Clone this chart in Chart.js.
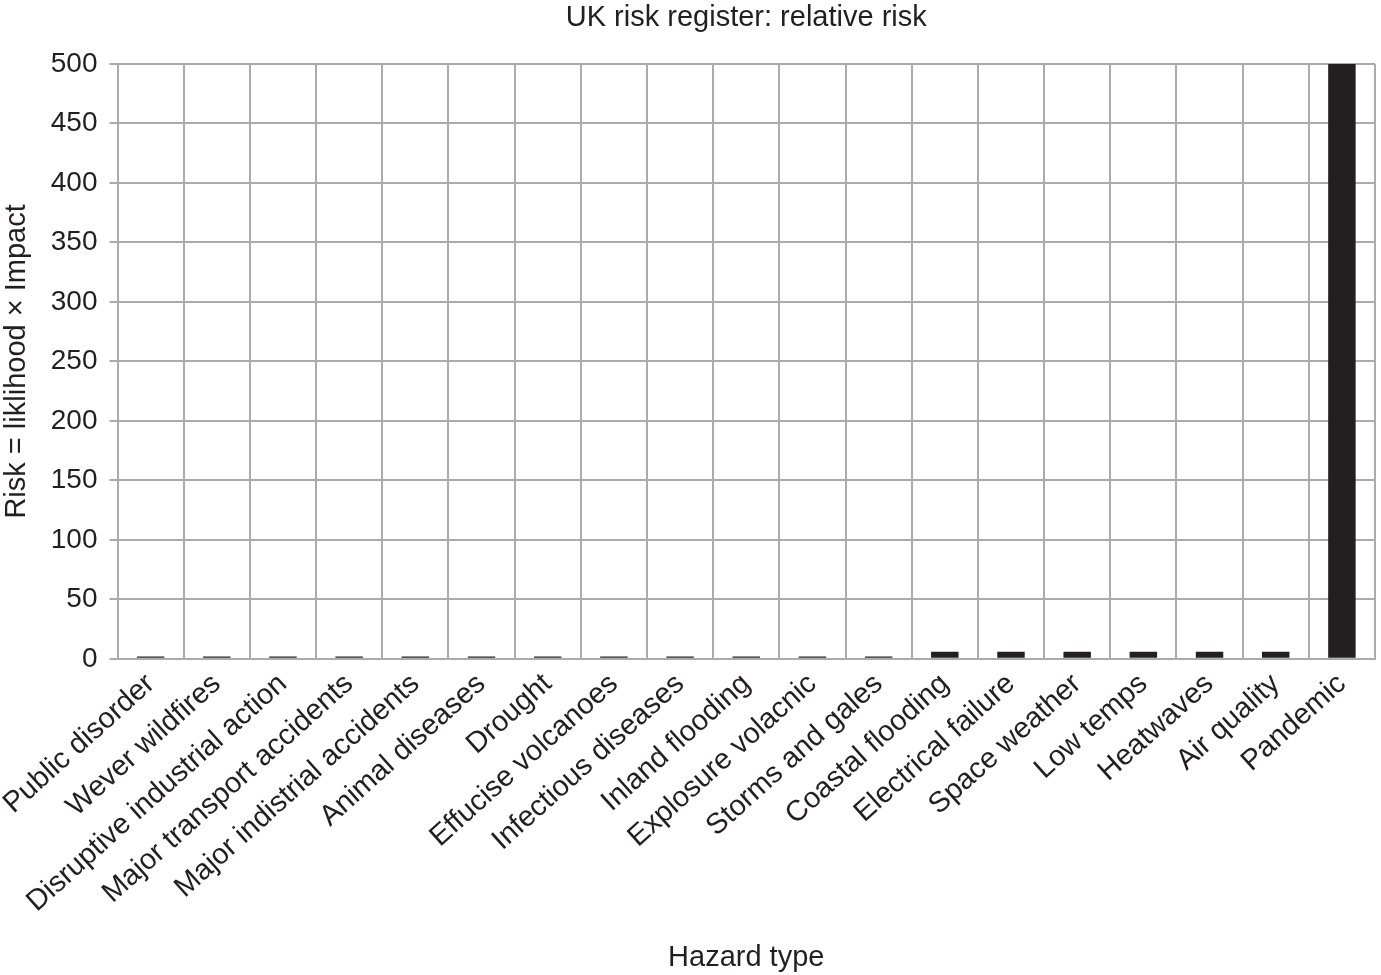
<!DOCTYPE html>
<html>
<head>
<meta charset="utf-8">
<script src="https://cdn.jsdelivr.net/npm/chart.js@4/dist/chart.umd.min.js"></script>
<style>
html,body{margin:0;padding:0;background:#fff;}
#wrap{width:1381px;height:975px;}
</style>
</head>
<body>
<div id="wrap"><canvas id="c" width="1381" height="975"></canvas></div>
<script>
const categories = ["Public disorder","Wever wildfires","Disruptive industrial action","Major transport accidents","Major indistrial accidents","Animal diseases","Drought","Effucise volcanoes","Infectious diseases","Inland flooding","Explosure volacnic","Storms and gales","Coastal flooding","Electrical failure","Space weather","Low temps","Heatwaves","Air quality","Pandemic"];
const riskValues = [2,2,2,2,2,2,2,2,2,2,2,2,6,6,6,6,6,6,500];
const yTicks = [0,50,100,150,200,250,300,350,400,450,500];
const chartTitle = "UK risk register: relative risk";
const xTitle = "Hazard type";
const yTitle = "Risk = liklihood \u00d7 Impact";

const FONT = "'Liberation Sans', Arial, Helvetica, sans-serif";
const INK = '#231f20';
const GRID = '#ababab';

const titlePlugin = {
  id: 'areaTitle',
  afterDraw(chart) {
    const ctx = chart.ctx, a = chart.chartArea;
    ctx.save();
    ctx.font = '29px ' + FONT;
    ctx.fillStyle = INK;
    ctx.textAlign = 'center';
    ctx.textBaseline = 'alphabetic';
    ctx.fillText(chartTitle, (a.left + a.right) / 2, 26);
    ctx.restore();
  }
};

new Chart(document.getElementById('c'), {
  type: 'bar',
  data: {
    labels: categories,
    datasets: [{
      data: riskValues,
      backgroundColor: INK,
      borderWidth: 0,
      categoryPercentage: 1.0,
      barPercentage: 0.415
    }]
  },
  options: {
    responsive: false,
    devicePixelRatio: 1,
    animation: false,
    layout: { padding: { top: 64, right: 6, left: 0, bottom: 0 } },
    plugins: { legend: { display: false }, tooltip: { enabled: false }, title: { display: false } },
    scales: {
      x: {
        afterFit(axis) { axis.paddingLeft = Math.max(0, axis.paddingLeft - 8); },
        grid: { color: GRID, lineWidth: 2, drawTicks: false, offset: true },
        border: { color: GRID, width: 2 },
        ticks: {
          color: INK, font: { size: 29, family: FONT },
          minRotation: 42, maxRotation: 42, autoSkip: false, padding: 8
        },
        title: { display: true, text: xTitle, color: INK, font: { size: 29, family: FONT }, padding: { top: 13, bottom: 0 } }
      },
      y: {
        min: 0, max: 500,
        afterBuildTicks(axis) { axis.ticks = yTicks.map(v => ({ value: v })); },
        grid: { color: GRID, lineWidth: 2, drawTicks: true, tickLength: 8 },
        border: { color: GRID, width: 2 },
        ticks: { color: INK, font: { size: 28, family: FONT }, padding: 12 },
        title: { display: true, text: yTitle, color: INK, font: { size: 29, family: FONT }, padding: { top: 0, bottom: 4 } }
      }
    }
  },
  plugins: [titlePlugin]
});
</script>
</body>
</html>
